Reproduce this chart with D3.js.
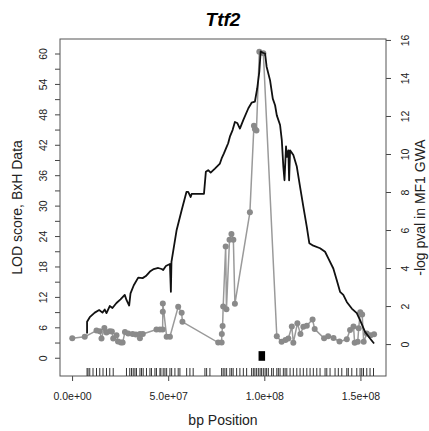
<!DOCTYPE html>
<html>
<head>
<meta charset="utf-8">
<script src="https://cdn.jsdelivr.net/npm/d3@7"></script>
<style>
body{margin:0;background:#fff;}
</style>
</head>
<body>
<script>
// LOD score (BxH), positions in Mb
const lodPos = [7.8,7.8,9.2,11.8,14.1,15.8,17.0,17.9,19.6,21.0,23.1,25.2,27.4,28.3,29.7,30.4,32.1,34.4,36.7,38.4,40.5,42.5,44.8,46.6,47.4,48.8,50.9,51.4,51.7,54.4,57.0,59.5,60.4,61.7,62.2,68.6,69.6,70.8,72.1,74.3,76.9,77.8,79.0,80.4,81.2,82.1,83.5,84.7,85.9,87.3,89.1,91.7,93.4,95.1,96.3,97.4,98.1,99.5,100.4,101.2,103.0,104.4,105.6,106.5,108.2,109.1,109.9,110.5,111.3,111.7,112.5,112.9,113.4,115.1,116.9,118.6,120.3,122.1,123.4,125.5,129.0,131.6,133.3,135.9,137.7,139.4,141.1,142.9,145.5,148.1,149.8,152.4,155.0,157.1];
const lodVal = [4.8,7.1,8.0,8.9,9.4,8.9,9.5,8.8,10.2,9.8,10.8,11.5,12.4,11.4,10.3,12.7,14.3,15.8,15.7,16.1,17.0,17.5,17.7,17.5,17.3,18.1,18.5,13.0,18.9,25.2,29.1,32.7,32.7,31.7,32.3,32.3,36.7,37.0,36.5,37.3,38.3,39.3,40.3,41.6,42.3,43.6,44.9,46.5,46.3,45.2,46.9,49.2,50.3,50.5,53.1,56.4,60.4,60.1,60.0,57.4,54.7,51.1,49.8,47.8,45.9,42.9,37.7,35.0,41.7,39.6,40.9,35.0,40.9,40.0,37.7,33.7,29.8,25.8,22.6,22.1,21.6,20.9,19.6,17.6,15.3,13.0,12.4,11.0,9.7,8.8,7.4,5.1,3.8,2.8];

// -log pval in MF1 GWA, positions in Mb
const gwaPos = [0.1,6.6,12.7,14.4,15.3,16.8,17.9,19.6,20.7,21.4,23.1,23.9,25.4,26.3,27.5,29.2,31.5,33.2,35.3,35.3,36.8,43.9,45.7,47.1,47.2,47.2,49.2,50.9,55.2,57.0,57.4,76.0,77.8,77.9,78.3,78.6,79.9,80.3,81.9,82.9,83.9,84.7,92.5,94.6,95.1,95.9,97.4,99.5,106.5,109.0,111.0,112.5,114.3,115.1,117.2,118.8,120.3,122.1,125.1,126.2,131.1,133.2,136.0,139.1,142.9,144.6,146.4,147.0,148.6,149.1,149.9,150.9,151.7,153.3,155.3,157.1];
const gwaVal = [0.30,0.38,0.71,0.68,0.29,0.84,0.61,0.68,0.66,0.29,0.47,0.13,0.08,0.08,0.63,0.55,0.53,0.50,0.53,0.30,0.53,0.77,0.77,0.77,1.70,2.14,0.39,0.39,1.96,1.65,1.17,0.08,0.08,0.53,0.95,1.97,5.13,1.83,5.49,5.79,5.49,2.12,6.93,11.49,11.32,11.23,15.38,15.30,0.41,0.12,0.21,0.29,0.92,0.07,1.09,0.53,0.91,0.97,1.29,0.79,0.30,0.41,0.32,0.13,0.25,0.74,0.92,0.07,0.12,0.83,1.67,1.55,0.12,0.55,0.47,0.51];

// marker positions (rug), Mb
const rugPos = [7.8,8.3,9.2,10.9,12.7,14.4,16.1,17.9,19.6,21.4,28.3,30.0,30.9,31.8,32.7,33.5,35.3,36.1,37.0,38.7,40.5,41.3,43.1,43.9,45.7,46.2,47.4,48.3,49.2,50.9,51.8,53.5,55.2,56.1,59.6,61.3,63.0,69.1,70.0,71.7,77.8,78.6,79.5,80.4,82.1,83.0,83.8,85.6,87.3,89.1,90.8,93.4,94.3,95.1,96.0,96.9,97.8,98.6,99.5,100.4,101.2,102.1,103.8,104.7,106.5,107.3,108.2,109.9,110.8,111.7,113.4,115.1,116.9,118.6,120.3,122.1,123.8,125.5,127.3,129.0,131.6,132.5,134.2,136.8,138.5,140.3,142.9,143.7,145.5,148.1,149.8,150.7,151.6,153.3,155.0,156.8];

// gene block
const geneStart = 97.0, geneEnd = 100.4;
const geneLow = -0.6, geneHigh = 1.3;

const xTicks = [0, 5e7, 1e8, 1.5e8];
const xTickLabels = ["0.0e+00", "5.0e+07", "1.0e+08", "1.5e+08"];
const leftTicks = [0,3,6,9,12,15,18,21,24,27,30,33,36,39,42,45,48,51,54,57,60];
const leftLabels = [0,6,12,18,24,30,36,42,48,54,60];
const rightTicks = [0,2,4,6,8,10,12,14,16];

const W = 429, H = 431;
const margin = {top: 39, right: 43, bottom: 55, left: 60};
const width = W - margin.left - margin.right;
const height = H - margin.top - margin.bottom;
const font = "'Liberation Sans', Arial, sans-serif";

const svg = d3.select("body").append("svg")
    .attr("width", W)
    .attr("height", H)
    .style("font-family", font);

const g = svg.append("g")
    .attr("transform", `translate(${margin.left},${margin.top})`);

const x = d3.scaleLinear().domain([-6.28e6, 1.633e8]).range([0, width]);
const yL = d3.scaleLinear().domain([-3.6, 62.86]).range([height, 0]);
const yR = d3.scaleLinear().domain([-1.68, 16.05]).range([height, 0]);

// x axis
const xAxis = g.append("g")
    .attr("transform", `translate(0,${height})`)
    .call(d3.axisBottom(x).tickValues(xTicks).tickSizeOuter(0).tickSize(5)
        .tickFormat((d, i) => xTickLabels[i]));
xAxis.select(".domain").remove();
xAxis.selectAll("line").attr("stroke", "#444");
xAxis.selectAll("text").attr("y", 24).attr("dy", 0)
    .attr("font-size", "10.5px").attr("fill", "#222").attr("font-family", font);

// left axis
const lAxis = g.append("g")
    .call(d3.axisLeft(yL).tickValues(leftTicks).tickSizeOuter(0).tickSize(5)
        .tickFormat(d => leftLabels.includes(d) ? d : ""));
lAxis.select(".domain").remove();
lAxis.selectAll("line").attr("stroke", "#444");
lAxis.selectAll("text")
    .attr("transform", "rotate(-90)")
    .attr("x", 0).attr("y", -13).attr("dy", 0)
    .attr("text-anchor", "middle")
    .attr("font-size", "10.5px").attr("fill", "#222").attr("font-family", font);

// right axis
const rAxis = g.append("g")
    .attr("transform", `translate(${width},0)`)
    .call(d3.axisRight(yR).tickValues(rightTicks).tickSizeOuter(0).tickSize(5));
rAxis.select(".domain").remove();
rAxis.selectAll("line").attr("stroke", "#444");
rAxis.selectAll("text")
    .attr("transform", "rotate(-90)")
    .attr("x", 0).attr("y", 23).attr("dy", 0)
    .attr("text-anchor", "middle")
    .attr("font-size", "10.5px").attr("fill", "#222").attr("font-family", font);

// box
g.append("rect")
    .attr("width", width).attr("height", height)
    .attr("fill", "none").attr("stroke", "#555").attr("stroke-width", 1);

// rug
g.append("g").selectAll("line")
    .data(rugPos)
    .join("line")
    .attr("x1", d => x(d * 1e6)).attr("x2", d => x(d * 1e6))
    .attr("y1", height - 8).attr("y2", height)
    .attr("stroke", "#333").attr("stroke-width", 1);

// gene block
g.append("rect")
    .attr("x", x(geneStart * 1e6))
    .attr("y", yL(geneHigh))
    .attr("width", x(geneEnd * 1e6) - x(geneStart * 1e6))
    .attr("height", yL(geneLow) - yL(geneHigh))
    .attr("fill", "#000");

// GWA series
const gwa = gwaPos.map((p, i) => [p * 1e6, gwaVal[i]]);
g.append("path")
    .datum(gwa)
    .attr("fill", "none")
    .attr("stroke", "#9a9a9a")
    .attr("stroke-width", 1.5)
    .attr("d", d3.line().x(d => x(d[0])).y(d => yR(d[1])));
g.append("g").selectAll("circle")
    .data(gwa)
    .join("circle")
    .attr("cx", d => x(d[0])).attr("cy", d => yR(d[1]))
    .attr("r", 3)
    .attr("fill", "#8a8a8a");

// LOD line
const lod = lodPos.map((p, i) => [p * 1e6, lodVal[i]]);
g.append("path")
    .datum(lod)
    .attr("fill", "none")
    .attr("stroke", "#111")
    .attr("stroke-width", 1.8)
    .attr("stroke-linejoin", "round")
    .attr("d", d3.line().x(d => x(d[0])).y(d => yL(d[1])));

// titles
svg.append("text")
    .attr("x", margin.left + width / 2).attr("y", 26)
    .attr("text-anchor", "middle")
    .attr("font-size", "19px").attr("font-weight", "bold").attr("font-style", "italic")
    .text("Ttf2");

svg.append("text")
    .attr("x", margin.left + width / 2).attr("y", 425)
    .attr("text-anchor", "middle")
    .attr("font-size", "14px").attr("fill", "#222")
    .text("bp Position");

svg.append("text")
    .attr("transform", `translate(22,${margin.top + height / 2}) rotate(-90)`)
    .attr("text-anchor", "middle")
    .attr("font-size", "14px").attr("fill", "#222")
    .text("LOD score, BxH Data");

svg.append("text")
    .attr("transform", `translate(425,${margin.top + height / 2}) rotate(-90)`)
    .attr("text-anchor", "middle")
    .attr("font-size", "14px").attr("fill", "#222")
    .text("-log pval in MF1 GWA");
</script>
</body>
</html>
